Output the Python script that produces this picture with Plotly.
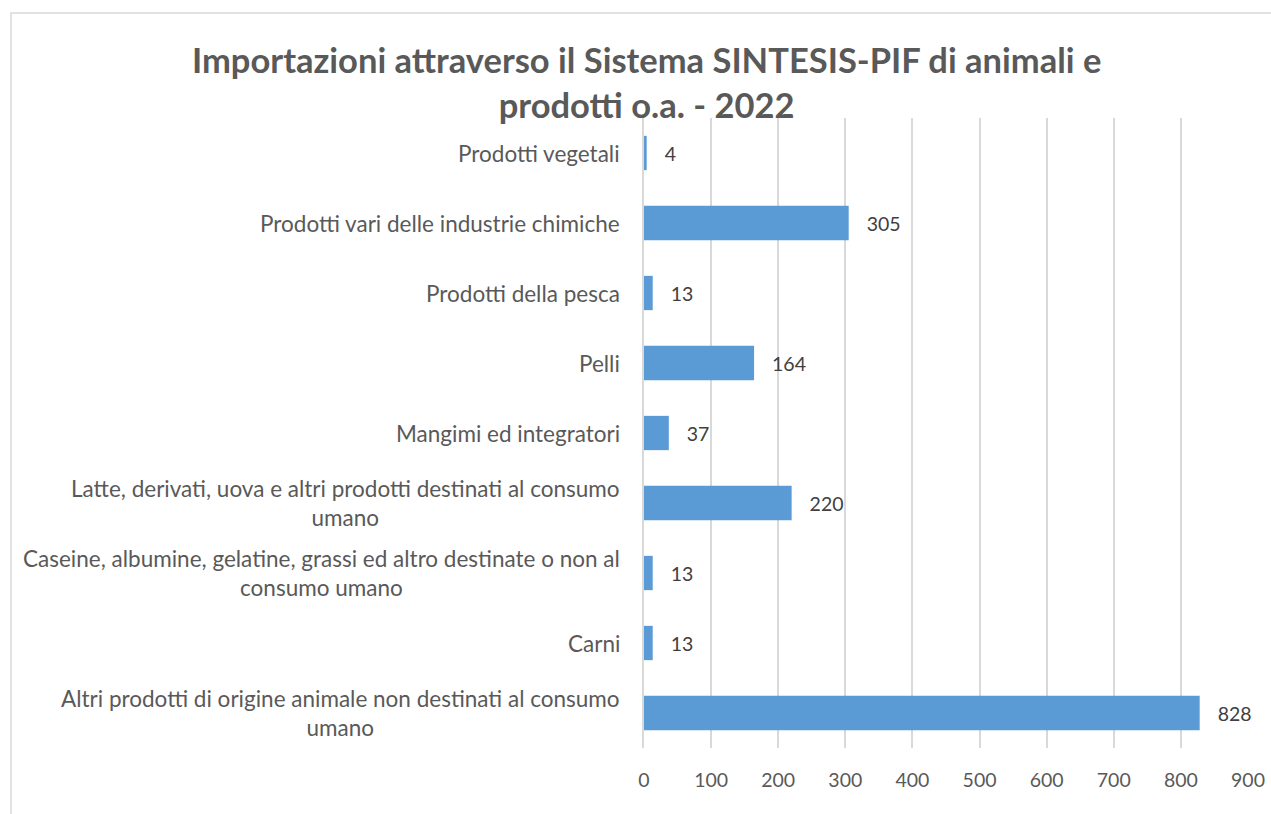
import plotly.graph_objects as go

# categories bottom -> top, as drawn
categories = [
    "Altri prodotti di origine animale non destinati al consumo<br>umano",
    "Carni",
    "Caseine, albumine, gelatine, grassi ed altro destinate o non al<br>consumo umano",
    "Latte, derivati, uova e altri prodotti destinati al consumo<br>umano",
    "Mangimi ed integratori",
    "Pelli",
    "Prodotti della pesca",
    "Prodotti vari delle industrie chimiche",
    "Prodotti vegetali",
]
values = [828, 13, 13, 220, 37, 164, 13, 305, 4]
x_ticks = [0, 100, 200, 300, 400, 500, 600, 700, 800, 900]

TITLE = "Importazioni attraverso il Sistema SINTESIS-PIF di animali e<br>prodotti o.a. - 2022"
FONT = "Lato, Carlito, Calibri, sans-serif"
BAR = "#5B9BD5"
GRID = "#D9D9D9"

W, H = 1271, 814
ML, MR, MT, MB = 644, 23, 118, 66
pw, ph = W - ML - MR, H - MT - MB


def px_x(x):
    return (x - ML) / pw


def px_y(y):
    return (H - MB - y) / ph


fig = go.Figure(go.Bar(
    x=values,
    y=categories,
    orientation="h",
    marker=dict(color=BAR, line=dict(width=0)),
    text=values,
    texttemplate="\u00a0\u00a0\u00a0%{x}",
    textposition="outside",
    textfont=dict(size=19.5, color="#404040", family=FONT),
    cliponaxis=False,
    hoverinfo="x+y",
))

# category labels as annotations so wrapped lines are centred like the original
for cat in categories:
    fig.add_annotation(
        x=px_x(622), xref="paper", xanchor="right",
        y=cat, yref="y", yanchor="middle",
        text=cat, showarrow=False, align="center",
        font=dict(size=22.5, color="#595959", family=FONT),
    )

fig.add_annotation(
    x=px_x(646), xref="paper", xanchor="center",
    y=px_y(81.5), yref="paper", yanchor="middle",
    text=f"<b>{TITLE}</b>", showarrow=False, align="center",
    font=dict(size=34.5, color="#595959", family=FONT),
)

# outer chart border
fig.add_shape(
    type="rect", xref="paper", yref="paper",
    x0=px_x(11), x1=px_x(1275), y0=px_y(830), y1=px_y(13),
    line=dict(color=GRID, width=1.5), layer="below",
)

fig.update_layout(
    width=W, height=H,
    margin=dict(l=ML, r=MR, t=MT, b=MB, autoexpand=False),
    paper_bgcolor="white",
    plot_bgcolor="white",
    bargap=0.51,
    showlegend=False,
    font=dict(family=FONT, color="#595959"),
)
fig.update_xaxes(
    range=[0, 900], tickvals=x_ticks,
    showgrid=True, gridcolor=GRID, gridwidth=1.5,
    zeroline=False, showline=False, ticks="",
    ticklabelstandoff=18, automargin=False,
    tickfont=dict(size=19.5, color="#595959", family=FONT),
)
fig.update_yaxes(
    categoryorder="array", categoryarray=categories,
    showticklabels=False, showgrid=False, zeroline=False, automargin=False,
    showline=True, linecolor=GRID, linewidth=1.5, ticks="",
)

fig.write_html(
    "out.html",
    config={"displayModeBar": False, "responsive": False},
    post_script="document.body.style.margin='0';document.body.style.overflow='hidden';",
)
